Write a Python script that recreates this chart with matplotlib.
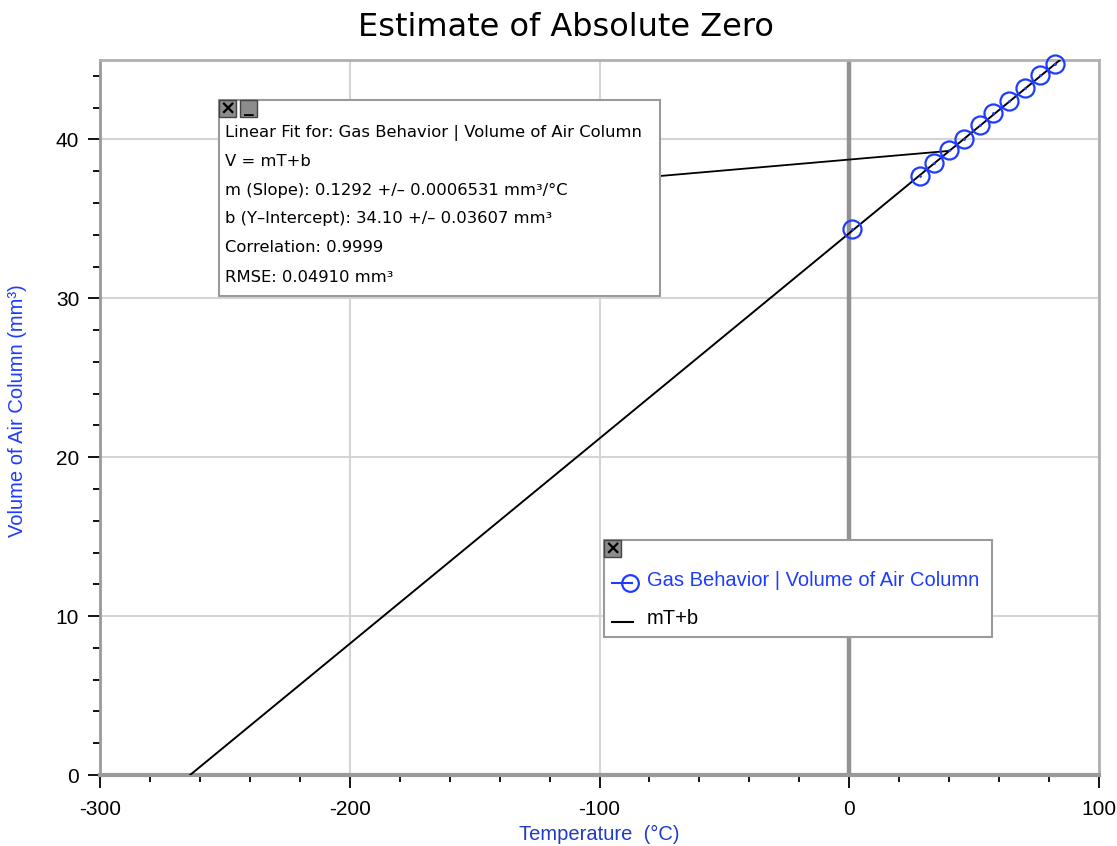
import numpy as np
import matplotlib
matplotlib.use("Agg")
import matplotlib.pyplot as plt
from matplotlib.patches import Rectangle
from matplotlib.lines import Line2D

# ---- data ----
temperature = [1.0, 28.4, 34.1, 40.1, 46.1, 52.5, 57.7, 64.1, 70.4, 76.5, 82.5]
volume = [34.34, 37.69, 38.51, 39.31, 40.04, 40.88, 41.68, 42.41, 43.23, 44.07, 44.76]
slope = 0.1292
intercept = 34.10
fit_lines = [
    "Linear Fit for: Gas Behavior | Volume of Air Column",
    "V = mT+b",
    "m (Slope): 0.1292 +/\u2013 0.0006531 mm\u00b3/\u00b0C",
    "b (Y\u2013Intercept): 34.10 +/\u2013 0.03607 mm\u00b3",
    "Correlation: 0.9999",
    "RMSE: 0.04910 mm\u00b3",
]
series_name = "Gas Behavior | Volume of Air Column"
fit_name = "mT+b"
x_ticks = [-300, -200, -100, 0, 100]
y_ticks = [0, 10, 20, 30, 40]

W, H = 1117, 846
fig = plt.figure(figsize=(W / 100, H / 100), dpi=100)

def fx(px):
    return px / W

def fy(py):
    return 1 - py / H

ax = fig.add_axes([fx(100), fy(775), fx(1099) - fx(100), fy(60) - fy(775)])
ax.set_xlim(-300, 100)
ax.set_ylim(0, 45)

BLUE = "#1e3cff"
GRAY = "#9a9a9a"

# grid
ax.set_xticks(x_ticks)
ax.set_yticks(y_ticks)
ax.set_xticks(np.arange(-280, 100, 20), minor=True)
ax.set_yticks(np.arange(2, 45, 2), minor=True)
ax.grid(True, which="major", color="#d4d4d4", lw=1.5)
ax.axvline(0, color="#939393", lw=3.2, zorder=2)

for side in ["left", "bottom", "top", "right"]:
    ax.spines[side].set_color(GRAY if side in ("left", "bottom") else "#b0b0b0")
ax.spines["left"].set_linewidth(2)
ax.spines["bottom"].set_linewidth(3)
ax.spines["top"].set_linewidth(2)
ax.spines["right"].set_linewidth(2)

ax.tick_params(which="major", direction="out", length=9, width=1.3, color="black", pad=9)
ax.tick_params(which="minor", direction="out", length=5, width=1.3, color="black")
ax.set_xticklabels([str(t) for t in x_ticks], fontfamily="Liberation Sans", fontsize=15)
ax.set_yticklabels([str(t) for t in y_ticks], fontfamily="Liberation Sans", fontsize=15)
ax.tick_params(axis="y", pad=6)

# fit line
x0 = -intercept / slope
x1 = (45 - intercept) / slope
ax.plot([x0, x1], [slope * x0 + intercept, slope * x1 + intercept], color="black", lw=1.4, zorder=3)

# data
ax.plot(temperature, volume, "o", ms=13, mfc="none", mec=BLUE, mew=1.6, zorder=4, clip_on=False)
ax.plot(temperature, volume, ".", ms=2, color=BLUE, zorder=4)

# labels
ax.set_xlabel("Temperature  (\u00b0C)", fontfamily="Liberation Sans", fontsize=14.5, color="#1f3acb", labelpad=4)
ax.set_ylabel("Volume of Air Column (mm\u00b3)", fontfamily="Liberation Sans", fontsize=14.5, color=BLUE)
ax.yaxis.set_label_coords(-0.073, 0.51)

fig.text(fx(566), fy(27), "Estimate of Absolute Zero", ha="center", va="center",
         fontsize=23, fontfamily="DejaVu Sans")

# annotation box
def close_btn(x, y, sym, dy=0):
    fig.patches.append(Rectangle((fx(x), fy(y + 17)), fx(17), 17 / H, transform=fig.transFigure,
                                 facecolor="#8c8c8c", edgecolor="#444444", lw=1, zorder=10))
    fig.text(fx(x + 8.5), fy(y + 8.5 + dy), sym, ha="center", va="center", fontsize=14,
             color="black", zorder=11, fontweight="bold")

fig.patches.append(Rectangle((fx(219), fy(296)), fx(660) - fx(219), fy(100) - fy(296),
                             transform=fig.transFigure, facecolor="white", edgecolor=GRAY, lw=1.5, zorder=9))
close_btn(219, 100, "\u00d7")
close_btn(240, 100, "_", dy=-2)
line_y = [133, 161, 190, 218, 247, 277]
for txt, yy in zip(fit_lines, line_y):
    fig.text(fx(225), fy(yy), txt, ha="left", va="center", fontsize=11.8,
             fontfamily="DejaVu Sans", zorder=11)

# connector line from box to fit line
ax.annotate("", xy=(temperature[3], slope * temperature[3] + intercept), xycoords="data",
            xytext=(fx(660), fy(176)), textcoords="figure fraction",
            arrowprops=dict(arrowstyle="-", color="black", lw=1.3, shrinkA=0, shrinkB=0), zorder=3)

# legend box
fig.patches.append(Rectangle((fx(604), fy(637)), fx(992) - fx(604), fy(540) - fy(637),
                             transform=fig.transFigure, facecolor="white", edgecolor=GRAY, lw=1.5, zorder=9))
close_btn(604, 540, "\u00d7")
fig.lines.append(Line2D([fx(612), fx(632)], [fy(583), fy(583)], transform=fig.transFigure,
                        color=BLUE, lw=1.5, zorder=11))
fig.lines.append(Line2D([fx(630)], [fy(583)], transform=fig.transFigure, marker="o", ms=12,
                        mfc="none", mec=BLUE, mew=1.6, zorder=11))
fig.text(fx(647), fy(580), series_name, ha="left", va="center", fontsize=14.5,
         fontfamily="Liberation Sans", color=BLUE, zorder=11)
fig.lines.append(Line2D([fx(612), fx(633)], [fy(622), fy(622)], transform=fig.transFigure,
                        color="black", lw=1.5, zorder=11))
fig.text(fx(647), fy(618), fit_name, ha="left", va="center", fontsize=14.5,
         fontfamily="Liberation Sans", color="black", zorder=11)

fig.savefig("out.png", dpi=100)
